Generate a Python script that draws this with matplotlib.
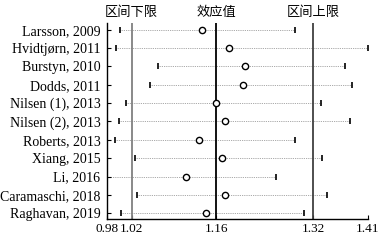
import matplotlib
matplotlib.use('Agg')
import matplotlib.pyplot as plt
import matplotlib.transforms as mtransforms

plt.rcParams['font.family'] = ['Liberation Serif', 'Noto Sans CJK SC', 'DejaVu Sans']

studies = ['Larsson, 2009', 'Hvidtjørn, 2011', 'Burstyn, 2010', 'Dodds, 2011',
           'Nilsen (1), 2013', 'Nilsen (2), 2013', 'Roberts, 2013', 'Xiang, 2015',
           'Li, 2016', 'Caramaschi, 2018', 'Raghavan, 2019']
effect = [1.136, 1.181, 1.208, 1.204, 1.160, 1.174, 1.132, 1.169, 1.110, 1.175, 1.143]
lower = [1.001, 0.995, 1.064, 1.050, 1.010, 0.999, 0.992, 1.025, 0.980, 1.029, 1.003]
upper = [1.290, 1.410, 1.372, 1.384, 1.332, 1.381, 1.290, 1.334, 1.259, 1.343, 1.304]

ref_values = [1.02, 1.16, 1.32]
ref_labels = ['区间下限', '效应值', '区间上限']
ref_colors = ['#808080', '#000000', '#404040']
x_ticks = [0.98, 1.02, 1.16, 1.32, 1.41]

fig = plt.figure(figsize=(3.82, 2.43), dpi=100)
ax = fig.add_axes([0.281, 0.0975, 0.682, 0.809])

y = list(range(len(studies)))
for i in y:
    ax.plot([lower[i], upper[i]], [i, i], linestyle=(0, (1, 1.2)), color='#8a8a8a',
            linewidth=0.6, zorder=1)
ax.plot(lower, y, linestyle='none', marker='|', color='black', markersize=5,
        markeredgewidth=1.2, zorder=3)
ax.plot(upper, y, linestyle='none', marker='|', color='black', markersize=5,
        markeredgewidth=1.2, zorder=3)

for v, c in zip(ref_values, ref_colors):
    ax.axvline(v, color=c, linewidth=1.3, zorder=2)

ax.plot(effect, y, linestyle='none', marker='o', markersize=4.5,
        markerfacecolor='white', markeredgecolor='black', markeredgewidth=1.0, zorder=4)

trans = mtransforms.blended_transform_factory(ax.transData, ax.transAxes)
for v, t in zip(ref_values, ref_labels):
    ax.text(v, 1.02, t, transform=trans, ha='center', va='bottom', fontsize=9.5)

ax.set_xlim(0.98, 1.41)
ax.set_ylim(len(studies) - 1 + 0.33, -0.38)
ax.set_yticks(y)
ax.set_yticklabels(studies)
ax.set_xticks(x_ticks)
ax.set_xticklabels(['%.2f' % v for v in x_ticks])
ax.tick_params(axis='both', direction='in', length=3, width=0.8)
ax.tick_params(axis='y', labelsize=10, pad=5)
ax.tick_params(axis='x', labelsize=9.5, pad=3)

for side in ['top', 'right']:
    ax.spines[side].set_visible(False)
for side in ['left', 'bottom']:
    ax.spines[side].set_linewidth(1.0)

fig.savefig('out.png', dpi=100)
